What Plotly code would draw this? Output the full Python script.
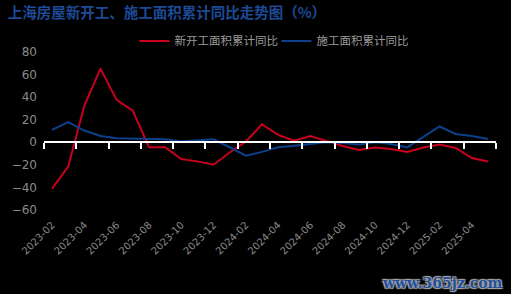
import plotly.graph_objects as go

months = ["2023-02","2023-03","2023-04","2023-05","2023-06","2023-07","2023-08","2023-09",
          "2023-10","2023-11","2023-12","2024-01","2024-02","2024-03","2024-04","2024-05",
          "2024-06","2024-07","2024-08","2024-09","2024-10","2024-11","2024-12","2025-01",
          "2025-02","2025-03","2025-04","2025-05"]
new_start = [-41, -21.6, 32.6, 65.2, 37.6, 28.1, -4.4, -4.4, -14.8, -16.9, -19.9, -9, 0.6, 16,
             6.5, 1.5, 5.6, 1, -3.3, -6.8, -4.7, -5.9, -8.6, -4.7, -2, -5, -14, -17]
under_const = [11, 17.8, 10.4, 5.6, 3.6, 3.3, 2.7, 2.7, 0.6, 1.8, 2.7, -4.4, -11.9, -8.5,
               -4.5, -3, -1.2, 0, -0.6, -2, 0, -1.5, -4.5, 5, 14, 7.4, 5.6, 3]
y_tickvals = [-60, -40, -20, 0, 20, 40, 60, 80]
y_min, y_max = -60, 80

title_text = "上海房屋新开工、施工面积累计同比走势图（%）"
name_new = "新开工面积累计同比"
name_uc = "施工面积累计同比"
watermark = "www.365jz.com"

cjk = "Noto Sans CJK SC"

fig = go.Figure()
fig.add_trace(go.Scatter(x=months, y=new_start, mode="lines", name=name_new,
                         line=dict(color="#c8001e", width=2)))
fig.add_trace(go.Scatter(x=months, y=under_const, mode="lines", name=name_uc,
                         line=dict(color="#0c3f8c", width=2)))

zero_pos = (0 - y_min) / (y_max - y_min)
plot_h = 294 - 52 - 84
label_drop = int(round(zero_pos * plot_h + 4))  # push labels below the plot

fig.update_layout(
    width=511, height=294,
    margin=dict(l=38, r=15, t=52, b=84),
    paper_bgcolor="black", plot_bgcolor="black",
    title=dict(text=title_text, x=0.015, xanchor="left", y=0.955, yanchor="middle",
               font=dict(family=cjk, size=14.5, color="#1d4a96", weight="bold")),
    legend=dict(orientation="h", x=0.2, xanchor="left", y=1.07, yanchor="middle",
                font=dict(family=cjk, size=11.5, color="#9a9a9a"),
                bgcolor="rgba(0,0,0,0)", itemwidth=30, entrywidth=97,
                entrywidthmode="pixels", tracegroupgap=0),
    xaxis=dict(type="category", anchor="free", position=zero_pos,
               tickmode="linear", tick0=0, dtick=2,
               tickangle=-45, showgrid=False, zeroline=False,
               showline=True, linecolor="#ffffff", linewidth=2,
               ticks="outside", tickson="boundaries", ticklen=6, tickwidth=1.5,
               tickcolor="#ffffff",
               ticklabelstandoff=label_drop,
               tickfont=dict(family="DejaVu Sans", size=10, color="#8a8a8a"),
               range=[-0.5, len(months) - 0.5]),
    yaxis=dict(range=[y_min, y_max], tickvals=y_tickvals, showgrid=False, zeroline=False,
               showline=False, tickfont=dict(family="DejaVu Sans", size=12, color="#8a8a8a"),
               ticklabelstandoff=6),
    annotations=[dict(text=watermark, xref="paper", yref="paper", x=1.02, y=-0.46,
                      xanchor="right", yanchor="middle", showarrow=False,
                      font=dict(family="DejaVu Serif", size=14, color="#22509c", weight="bold",
                                shadow="1px 1px 1px #aaa, -1px -1px 1px #aaa, 1px -1px 1px #aaa, -1px 1px 1px #aaa"))],
)

fig.write_html("out.html")
